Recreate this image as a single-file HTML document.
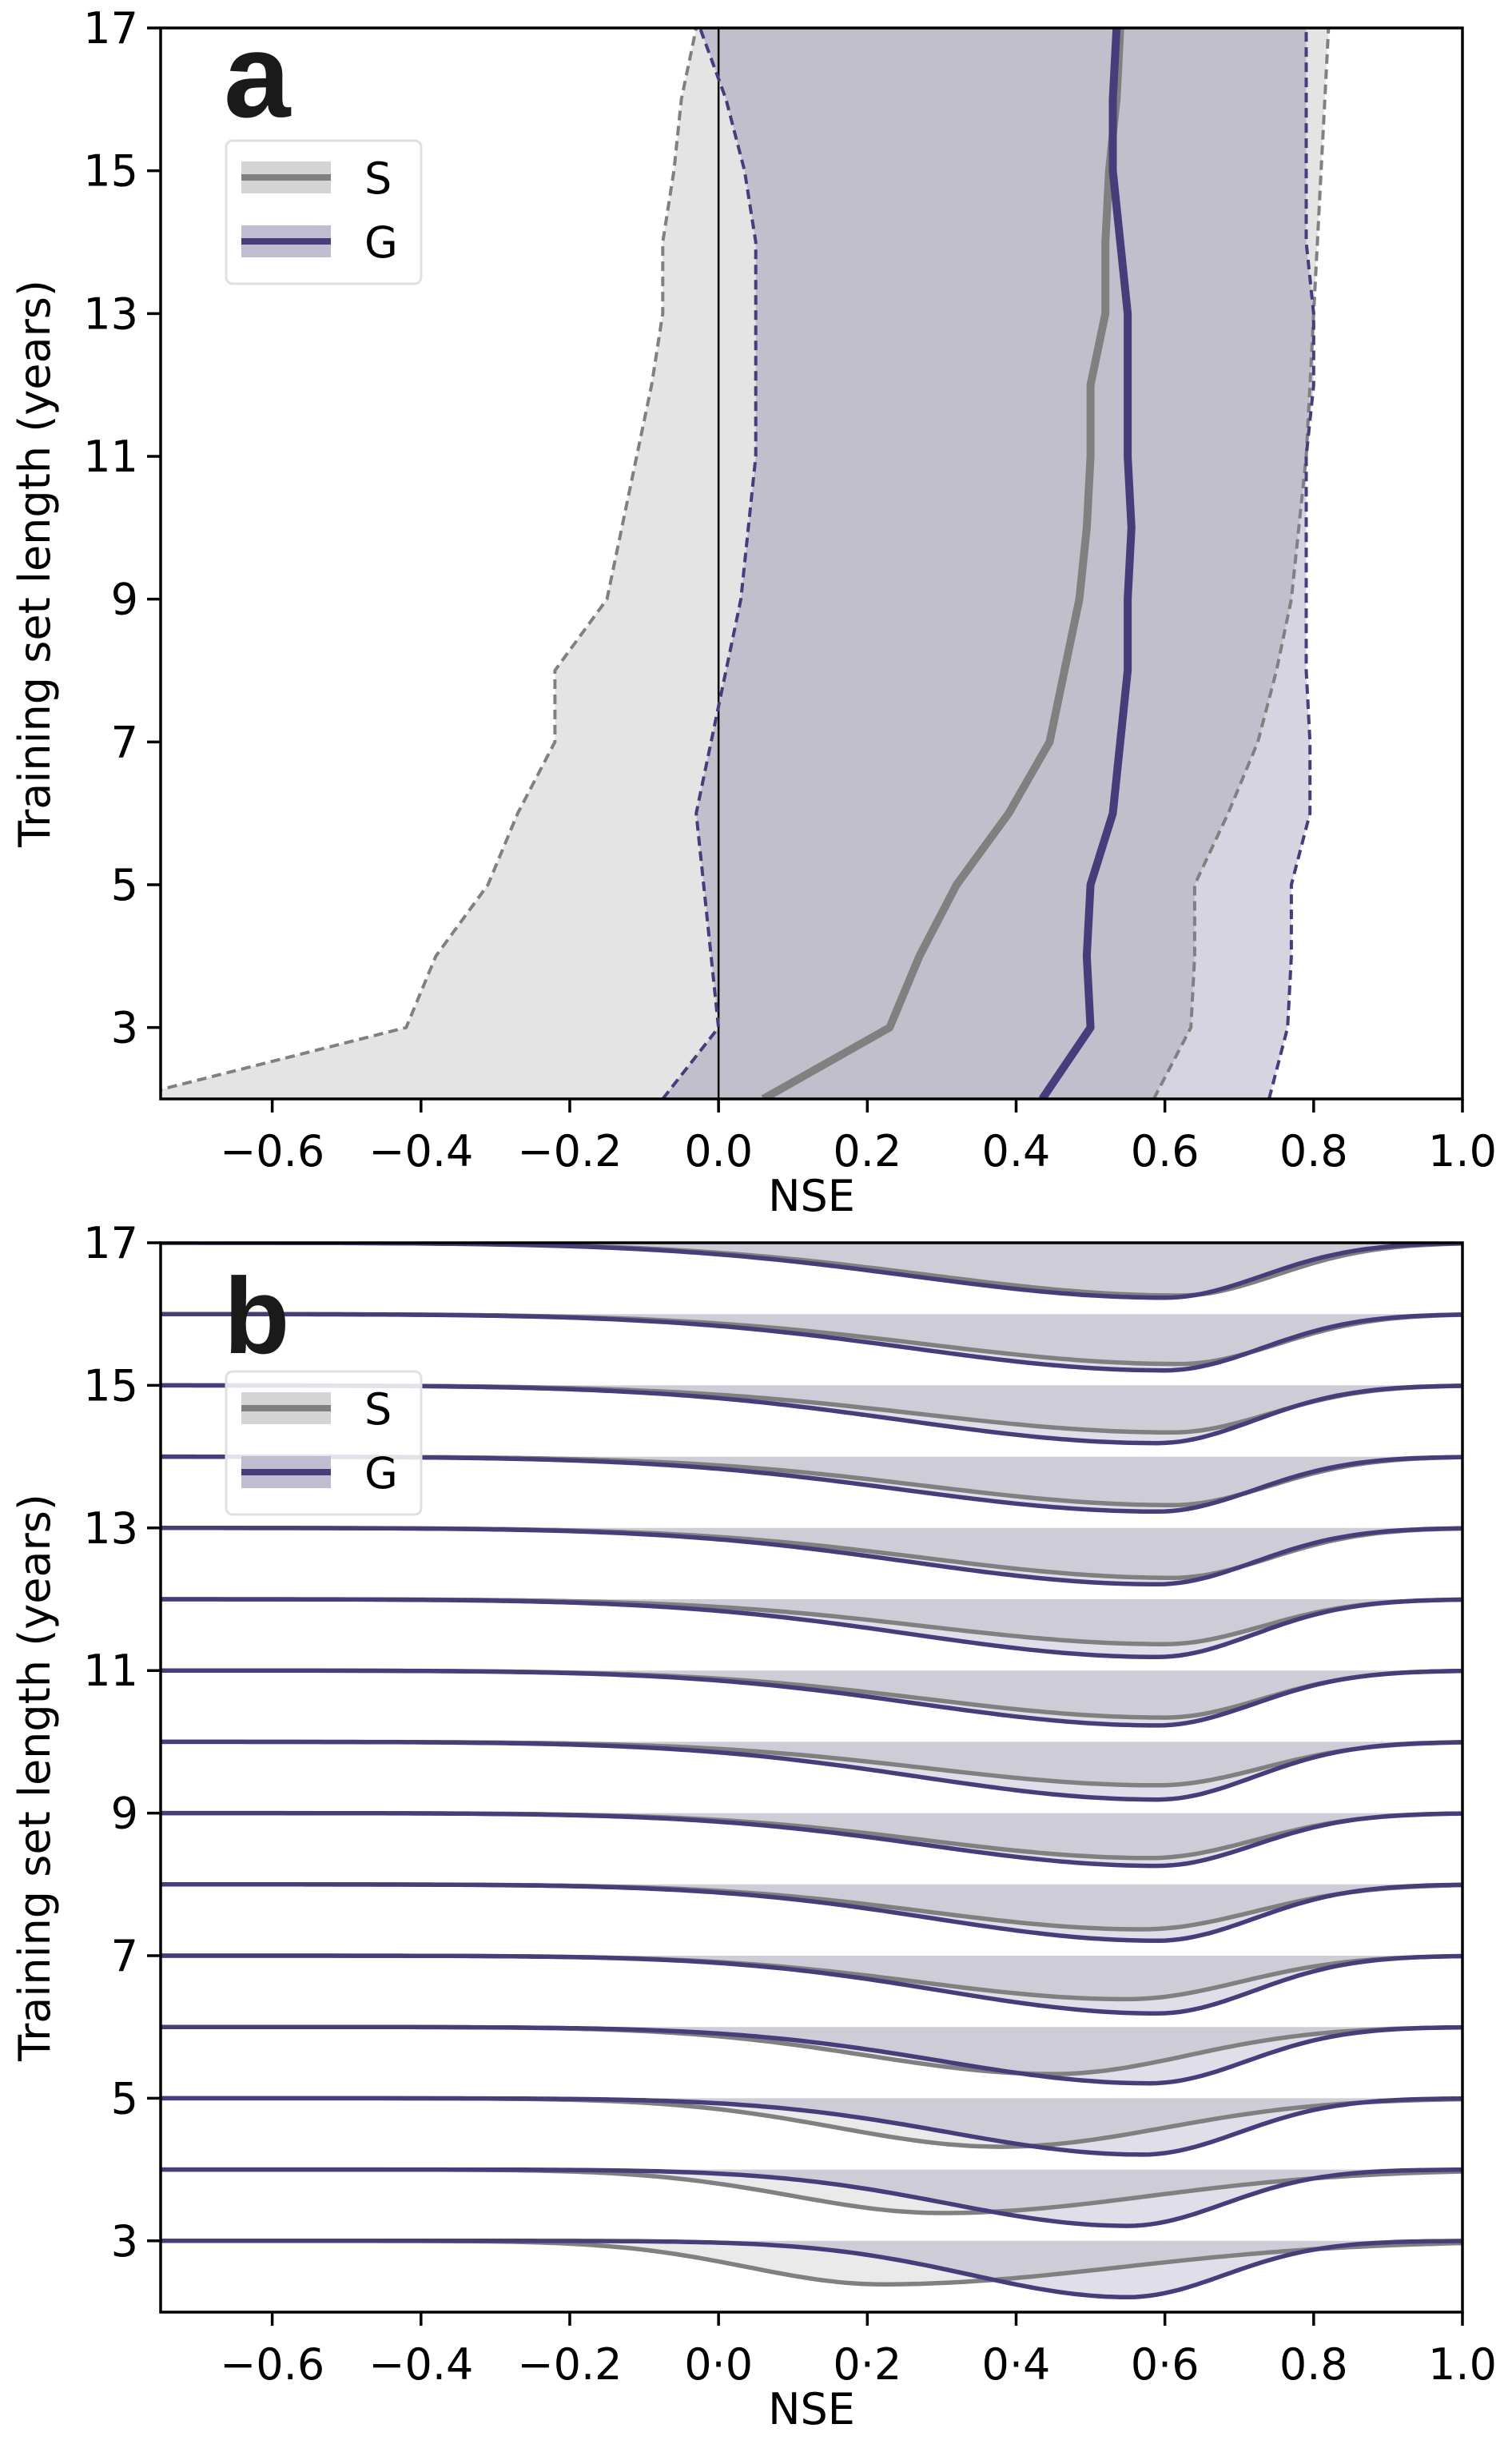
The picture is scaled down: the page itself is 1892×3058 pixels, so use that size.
<!DOCTYPE html>
<html><head><meta charset="utf-8">
<style>
html,body{margin:0;padding:0;background:#fff;}
svg{display:block;font-family:"DejaVu Sans","Liberation Sans",sans-serif;}
</style></head>
<body>
<svg id="fig" width="1892" height="3058" viewBox="0 0 1892 3058" xmlns="http://www.w3.org/2000/svg">
<rect width="1892" height="3058" fill="#fff"/>
<g id="pa"></g>
<g id="pb"></g>
</svg>
<script>
// ---------- Panel a data (years 2..17) ----------
const years = [2,3,4,5,6,7,8,9,10,11,12,13,14,15,16,17];
const sMedian = [0.06,0.23,0.27,0.32,0.39,0.445,0.465,0.485,0.495,0.50,0.50,0.52,0.52,0.525,0.535,0.54];
const gMedian = [0.435,0.50,0.495,0.50,0.53,0.54,0.55,0.55,0.555,0.55,0.55,0.55,0.54,0.53,0.53,0.535];
const sLower = [-0.80,-0.42,-0.38,-0.31,-0.27,-0.22,-0.22,-0.15,-0.13,-0.11,-0.09,-0.075,-0.075,-0.06,-0.05,-0.03];
const sUpper = [0.585,0.635,0.64,0.64,0.685,0.725,0.75,0.77,0.78,0.79,0.795,0.80,0.805,0.81,0.815,0.82];
const gLower = [-0.075,0.0,-0.01,-0.02,-0.03,-0.01,0.01,0.03,0.04,0.05,0.05,0.05,0.05,0.035,0.01,-0.025];
const gUpper = [0.74,0.765,0.77,0.77,0.795,0.795,0.79,0.79,0.79,0.79,0.80,0.80,0.79,0.79,0.79,0.79];
const xTicksA = ["\u22120.6","\u22120.4","\u22120.2","0.0","0.2","0.4","0.6","0.8","1.0"];
const xTickValsA = [-0.6,-0.4,-0.2,0.0,0.2,0.4,0.6,0.8,1.0];
const yTickVals = [3,5,7,9,11,13,15,17];
// ---------- Panel b data (years 3..17) ----------
const ridgeYears = [3,4,5,6,7,8,9,10,11,12,13,14,15,16,17];
const sPeak  = [0.22,0.30,0.38,0.45,0.55,0.57,0.58,0.59,0.60,0.60,0.61,0.61,0.61,0.62,0.62];
const sDepth = [0.61,0.61,0.68,0.66,0.61,0.63,0.63,0.61,0.66,0.63,0.70,0.68,0.66,0.70,0.74];
const sSigL  = [0.18,0.20,0.22,0.25,0.28,0.29,0.30,0.31,0.32,0.32,0.33,0.33,0.34,0.34,0.34];
const sSigR  = [0.32,0.28,0.22,0.18,0.15,0.15,0.14,0.14,0.13,0.13,0.13,0.13,0.13,0.13,0.13];
const gPeak  = [0.55,0.55,0.57,0.58,0.59,0.59,0.59,0.59,0.59,0.59,0.59,0.59,0.59,0.60,0.60];
const gDepth = [0.79,0.79,0.79,0.79,0.81,0.79,0.74,0.81,0.77,0.81,0.79,0.77,0.81,0.79,0.77];
const gSigL  = [0.21,0.24,0.26,0.28,0.29,0.30,0.31,0.32,0.32,0.33,0.33,0.34,0.34,0.34,0.34];
const gSigR  = [0.13,0.13,0.13,0.13,0.13,0.13,0.13,0.13,0.13,0.13,0.13,0.13,0.13,0.13,0.13];
const xTicksB = ["\u22120.6","\u22120.4","\u22120.2","0\u00b70","0\u00b72","0\u00b74","0\u00b76","0.8","1.0"];

const NS="http://www.w3.org/2000/svg";
const SCOL="#808080", GCOL="#483c7a";
const FS=54;
function mk(parent, tag, attrs, text){
  const e=document.createElementNS(NS,tag);
  for(const k in attrs) e.setAttribute(k,attrs[k]);
  if(text!==undefined) e.textContent=text;
  parent.appendChild(e); return e;
}
const L=201,R=1830;
const xs = v => L + (v+0.75)/1.75*(R-L);
function yScale(top,bot){ return v => bot - (v-2)/15*(bot-top); }

// ===== Panel a =====
(function(){
  const g=document.getElementById('pa');
  const T=35,B=1375, ys=yScale(T,B);
  const cp=mk(g,'clipPath',{id:'clipA'});
  mk(cp,'rect',{x:L,y:T,width:R-L,height:B-T});
  const cg=mk(g,'g',{'clip-path':'url(#clipA)'});
  function band(lo,hi){
    let d='';
    years.forEach((y,i)=>{d+=(i?'L':'M')+xs(lo[i]).toFixed(1)+','+ys(y).toFixed(1);});
    for(let i=years.length-1;i>=0;i--) d+='L'+xs(hi[i]).toFixed(1)+','+ys(years[i]).toFixed(1);
    return d+'Z';
  }
  function line(arr){ return years.map((y,i)=>(i?'L':'M')+xs(arr[i]).toFixed(1)+','+ys(y).toFixed(1)).join(''); }
  const sb=mk(cg,'path',{d:band(sLower,sUpper),fill:'rgba(128,128,128,0.21)'});
   
  const gb=mk(cg,'path',{d:band(gLower,gUpper),fill:'rgba(72,60,122,0.22)'});
   
  const z=mk(cg,'line',{x1:xs(0),x2:xs(0),y1:T,y2:B,stroke:'#000','stroke-width':2.5});
   
  [[sLower,SCOL,'s-lower'],[sUpper,SCOL,'s-upper'],[gLower,GCOL,'g-lower'],[gUpper,GCOL,'g-upper']].forEach(a=>{
    const p=mk(cg,'path',{d:line(a[0]),fill:'none',stroke:a[1],'stroke-width':4,'stroke-dasharray':'12,7'});
     
  });
  const sm=mk(cg,'path',{d:line(sMedian),fill:'none',stroke:SCOL,'stroke-width':10,'stroke-linejoin':'round'});
   
  const gm=mk(cg,'path',{d:line(gMedian),fill:'none',stroke:GCOL,'stroke-width':10,'stroke-linejoin':'round'});
   
  axes(g,T,B,ys,xTicksA,'a');
  legend(g,176,'legend-a');
  const lab=mk(g,'text',{x:280,y:146,'font-size':150,'font-weight':'bold','font-family':'"Liberation Sans",sans-serif',fill:'#1a1a1a'},'a');
   
})();

// ===== Panel b =====
(function(){
  const g=document.getElementById('pb');
  const T=1555,B=2893, ys=yScale(T,B), unit=(B-T)/15;
  const cp=mk(g,'clipPath',{id:'clipB'});
  mk(cp,'rect',{x:L,y:T,width:R-L,height:B-T});
  const cg=mk(g,'g',{'clip-path':'url(#clipB)'});
  function curve(p,dpt,sl,sr,base){
    const pts=[];
    for(let x=-0.75;x<=1.0001;x+=0.01){
      const s = x<p?sl:sr;
      const v = dpt*Math.exp(-0.5*Math.pow((x-p)/s,2));
      pts.push([xs(x),base+v*unit]);
    }
    return pts;
  }
  ridgeYears.forEach((yr,i)=>{
    const base=ys(yr);
    const sp=curve(sPeak[i],sDepth[i],sSigL[i],sSigR[i],base);
    const gp=curve(gPeak[i],gDepth[i],gSigL[i],gSigR[i],base);
    const toD=pts=>pts.map((q,j)=>(j?'L':'M')+q[0].toFixed(1)+','+q[1].toFixed(1)).join('');
    const closeD=pts=>toD(pts)+'L'+xs(1.0)+','+base+'L'+xs(-0.75)+','+base+'Z';
    const sf=mk(cg,'path',{d:closeD(sp),fill:'rgba(128,128,128,0.17)'});
     
    const gf=mk(cg,'path',{d:closeD(gp),fill:'rgba(72,60,122,0.17)'});
     
    const sl=mk(cg,'path',{d:toD(sp),fill:'none',stroke:SCOL,'stroke-width':5.5});
     
    const gl=mk(cg,'path',{d:toD(gp),fill:'none',stroke:GCOL,'stroke-width':5.5});
     
  });
  axes(g,T,B,ys,xTicksB,'b');
  legend(g,1716,'legend-b');
  const lab=mk(g,'text',{x:280,y:1693,'font-size':135,'font-weight':'bold','font-family':'"Liberation Sans",sans-serif',fill:'#1a1a1a'},'b');
   
})();

function axes(g,T,B,ys,labels,id){
  const fr=mk(g,'rect',{x:L,y:T,width:R-L,height:B-T,fill:'none',stroke:'#000','stroke-width':3.5});
   
  xTickValsA.forEach((v,i)=>{
    mk(g,'line',{x1:xs(v),x2:xs(v),y1:B,y2:B+17,stroke:'#000','stroke-width':3.5});
    const t=mk(g,'text',{x:xs(v),y:B+84,'font-size':FS,'text-anchor':'middle',fill:'#000'},labels[i]);
     
  });
  yTickVals.forEach(v=>{
    mk(g,'line',{x1:L-17,x2:L,y1:ys(v),y2:ys(v),stroke:'#000','stroke-width':3.5});
    const t=mk(g,'text',{x:L-28,y:ys(v)+19,'font-size':FS,'text-anchor':'end',fill:'#000'},String(v));
     
  });
  const xt=mk(g,'text',{x:(L+R)/2,y:B+140,'font-size':FS,'text-anchor':'middle',fill:'#000'},'NSE');
   
  const cy=(T+B)/2;
  const yt=mk(g,'text',{x:0,y:0,'font-size':FS,'text-anchor':'middle',fill:'#000',transform:'translate(62,'+cy+') rotate(-90)'},'Training set length (years)');
   
}
function legend(g,top,name){
  const lg=mk(g,'g',{});
   
  mk(lg,'rect',{x:283,y:top,width:244,height:179,rx:8,fill:'rgba(255,255,255,0.85)',stroke:'#e0e0e0','stroke-width':3});
  const e1=top+46, e2=top+126;
  mk(lg,'rect',{x:302,y:e1-20,width:112,height:40,fill:'#d4d4d4'});
  mk(lg,'line',{x1:302,x2:414,y1:e1,y2:e1,stroke:SCOL,'stroke-width':8});
  mk(lg,'rect',{x:302,y:e2-20,width:112,height:40,fill:'#c1bdd1'});
  mk(lg,'line',{x1:302,x2:414,y1:e2,y2:e2,stroke:GCOL,'stroke-width':8});
  const s=mk(lg,'text',{x:456,y:e1+20,'font-size':FS,fill:'#000'},'S');
   
  const gg=mk(lg,'text',{x:456,y:e2+20,'font-size':FS,fill:'#000'},'G');
   
}
</script>
</body></html>
